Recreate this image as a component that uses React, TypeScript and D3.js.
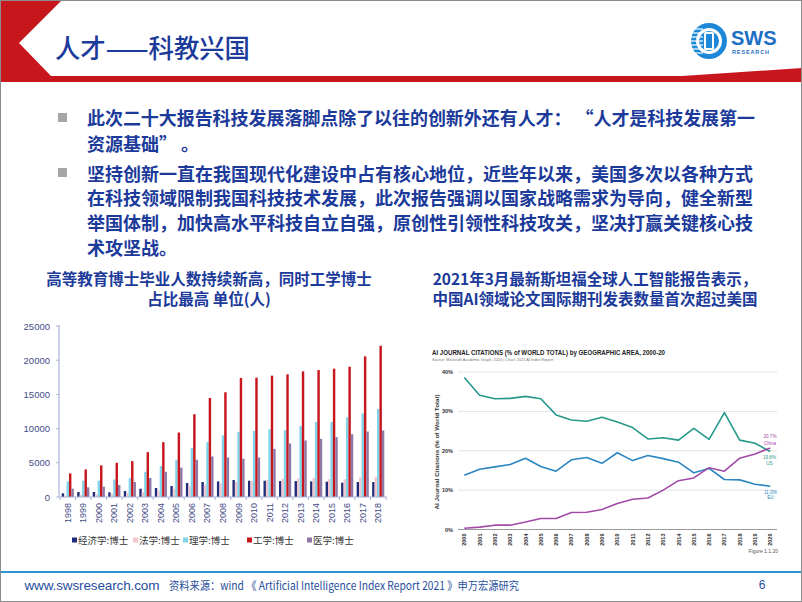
import React from 'react';
import * as d3 from 'd3';

// ---------- Left chart data (人) ----------
const yearLabels = ['1998','1999','2000','2001','2002','2003','2004','2005','2006','2007','2008','2009','2010','2011','2012','2013','2014','2015','2016','2017','2018'];
const econ = [540, 730, 730, 680, 870, 1210, 1310, 1600, 2040, 2190, 2280, 2480, 2380, 2380, 2330, 2330, 2280, 2240, 2090, 2190, 2190];
const law = [200, 300, 400, 450, 600, 700, 900, 1200, 1600, 1800, 2000, 2200, 2300, 2500, 2650, 2700, 2800, 2600, 2600, 2850, 2950];
const sci = [2290, 2380, 2380, 2570, 2770, 3690, 4520, 5440, 7190, 8020, 9000, 9530, 9670, 9910, 9770, 10400, 10980, 10980, 11660, 12200, 12880];
const eng = [3450, 4030, 4620, 5000, 5250, 6560, 8020, 9430, 12100, 14480, 15310, 17400, 17450, 17740, 17930, 18370, 18560, 18760, 19050, 20560, 22110];
const med = [1220, 1410, 1510, 1750, 2190, 2770, 3690, 4280, 5440, 5930, 5780, 5590, 5780, 7050, 7820, 8260, 8500, 8750, 9180, 9570, 9720];
const seriesNames = ['经济学:博士', '法学:博士', '理学:博士', '工学:博士', '医学:博士'];
const seriesColors = ['#1f2d7a', '#f2c6ce', '#7fd4ea', '#c8161d', '#8e78a6'];
const leftTicks = [0, 5000, 10000, 15000, 20000, 25000];

// ---------- Right chart data (% of world total) ----------
const aiYears = ['2000','2001','2002','2003','2004','2005','2006','2007','2008','2009','2010','2011','2012','2013','2014','2015','2016','2017','2018','2019','2020'];
const usShare = [38.6, 34.1, 33.2, 33.3, 33.8, 33.2, 29.1, 27.8, 27.5, 28.5, 27.3, 25.9, 23.0, 23.3, 22.7, 25.7, 22.9, 29.7, 22.7, 21.9, 19.8];
const euShare = [13.8, 15.3, 15.9, 16.5, 18.1, 16.0, 14.8, 17.7, 18.3, 16.8, 19.5, 17.5, 18.8, 18.0, 17.1, 14.4, 15.5, 12.7, 12.6, 11.5, 11.0];
const chinaShare = [0.3, 0.6, 1.1, 1.1, 1.9, 2.8, 2.8, 4.3, 4.4, 5.1, 6.6, 7.7, 8.0, 10.0, 12.4, 13.1, 15.7, 14.8, 18.1, 19.2, 20.7];
const pctTicks = [0, 10, 20, 30, 40];

const bullet1 = ['此次二十大报告科技发展落脚点除了以往的创新外还有人才： “人才是科技发展第一', '资源基础” 。'];
const bullet2 = ['坚持创新一直在我国现代化建设中占有核心地位，近些年以来，美国多次以各种方式', '在科技领域限制我国科技技术发展，此次报告强调以国家战略需求为导向，健全新型', '举国体制，加快高水平科技自立自强，原创性引领性科技攻关，坚决打赢关键核心技', '术攻坚战。'];

const CJK = '"Noto Sans CJK SC", "Noto Sans", sans-serif';
const SANS = '"Liberation Sans", Arial, sans-serif';
const BLUE = '#1b3a9a';

export default function App() {
  // left chart scales
  const x0 = d3.scaleBand().domain(yearLabels).range([60, 386]).padding(0);
  const x1 = d3.scaleBand().domain(d3.range(5).map(String)).range([0, x0.bandwidth()]).paddingOuter(0.7).paddingInner(0);
  const yL = d3.scaleLinear().domain([0, 25000]).range([497, 326]);
  const allSeries = [econ, law, sci, eng, med];

  // right chart scales
  const xr = d3.scalePoint().domain(aiYears).range([464.3, 770.3]);
  const yr = d3.scaleLinear().domain([0, 40]).range([529.5, 372]);
  const line = d3.line<number>().x((_, i) => xr(aiYears[i]) as number).y(d => yr(d));
  const rightSeries = [
    { vals: usShare, color: '#26998b' },
    { vals: euShare, color: '#2b86c2' },
    { vals: chinaShare, color: '#a24aa8' },
  ];

  const legendX = [72, 133, 183, 247, 307];

  return (
    <svg width={802} height={602} style={{ position: 'absolute', left: 0, top: 0, background: '#fff' }}>
      <rect x={0} y={0} width={802} height={602} fill="#fff" />
      {/* header */}
      <polygon points="0,0 62,0 19,43 51,76 682,76 802,68 802,82 0,82" fill="#c8161d" />
      <text x={55} y={58} fontFamily={CJK} fontWeight={500} fontSize={26} fill={BLUE} textLength={195} lengthAdjust="spacingAndGlyphs">人才——科教兴国</text>
      {/* logo */}
      <g>
        <circle cx={709} cy={41} r={18} fill="#1e88d8" />
        <circle cx={709} cy={41} r={13} fill="#fff" />
        <circle cx={709} cy={41} r={10} fill="#1e88d8" />
        {[29, 33, 37, 41, 45, 49, 53].map((yy) => (
          <line key={yy} x1={691} x2={703} y1={yy} y2={yy} stroke="#fff" strokeWidth={1.2} />
        ))}
        <rect x={704} y={32} width={10} height={18} rx={1.5} fill="#fff" />
        <rect x={706} y={34} width={6} height={14} fill="#1e88d8" />
        <text x={731} y={45} fontFamily={SANS} fontWeight="bold" fontSize={20} fill="#1d6fc4">SWS</text>
        <text x={732} y={53.5} fontFamily={SANS} fontWeight="bold" fontSize={5.5} fill="#1d6fc4" textLength={37}>RESEARCH</text>
      </g>

      {/* bullets */}
      <rect x={58} y={113} width={9} height={9} fill="#a6a6a6" />
      <rect x={58} y={168} width={9} height={9} fill="#a6a6a6" />
      {bullet1.map((t, i) => (
        <text key={'b1' + i} x={87} y={117 + i * 25.5} dominantBaseline="central" fontFamily={CJK} fontWeight="bold" fontSize={18} fill={BLUE}
          {...(i === 0 ? { textLength: 668, lengthAdjust: 'spacing' } : {})}>{t}</text>
      ))}
      {bullet2.map((t, i) => (
        <text key={'b2' + i} x={87} y={172.5 + i * 24.7} dominantBaseline="central" fontFamily={CJK} fontWeight="bold" fontSize={18} fill={BLUE}>{t}</text>
      ))}

      {/* chart titles */}
      <text x={209} y={278} textAnchor="middle" dominantBaseline="central" fontFamily={CJK} fontWeight="bold" fontSize={15.5} fill={BLUE}>高等教育博士毕业人数持续新高，同时工学博士</text>
      <text x={209} y={297.5} textAnchor="middle" dominantBaseline="central" fontFamily={CJK} fontWeight="bold" fontSize={15.5} fill={BLUE}>占比最高 单位(人)</text>
      <text x={595} y={278} textAnchor="middle" dominantBaseline="central" fontFamily={CJK} fontWeight="bold" fontSize={15.5} fill={BLUE}>2021年3月最新斯坦福全球人工智能报告表示，</text>
      <text x={595} y={297.5} textAnchor="middle" dominantBaseline="central" fontFamily={CJK} fontWeight="bold" fontSize={15.5} fill={BLUE}>中国AI领域论文国际期刊发表数量首次超过美国</text>

      {/* left chart */}
      <g>
        {leftTicks.map((t) => (
          <g key={t}>
            <text x={50} y={yL(t)} textAnchor="end" dominantBaseline="central" fontFamily={SANS} fontSize={9.5} fill="#3f4c86">{t}</text>
            <line x1={56} x2={59} y1={yL(t)} y2={yL(t)} stroke="#a8b2d8" />
          </g>
        ))}
        {allSeries.map((vals, si) => (
          <g key={si}>
            {vals.map((v, i) => (
              <rect key={i}
                x={(x0(yearLabels[i]) as number) + (x1(String(si)) as number)}
                y={yL(v)}
                width={x1.bandwidth()}
                height={yL(0) - yL(v)}
                fill={seriesColors[si]} />
            ))}
          </g>
        ))}
        <line x1={59} x2={59} y1={325} y2={497} stroke="#a8b2d8" strokeWidth={1.2} />
        <line x1={59} x2={387} y1={497} y2={497} stroke="#a8b2d8" strokeWidth={1.2} />
        {yearLabels.map((yl) => (
          <line key={'tk' + yl} x1={x0(yl) as number} x2={x0(yl) as number} y1={497} y2={500} stroke="#a8b2d8" />
        ))}
        <line x1={386} x2={386} y1={497} y2={500} stroke="#a8b2d8" />
        {yearLabels.map((yl) => {
          const cx = (x0(yl) as number) + x0.bandwidth() / 2;
          return (
            <text key={'xl' + yl} transform={`translate(${cx + 3},503) rotate(-90)`} textAnchor="end" fontFamily={SANS} fontSize={9} fill="#3f4c86">{yl}</text>
          );
        })}
        {seriesNames.map((n, i) => (
          <g key={n}>
            <rect x={legendX[i]} y={537.5} width={5} height={5} fill={seriesColors[i]} />
            <text x={legendX[i] + 6} y={540} dominantBaseline="central" fontFamily={CJK} fontSize={9.5} fill="#333">{n}</text>
          </g>
        ))}
      </g>

      {/* right chart */}
      <g>
        <text x={432} y={355} fontFamily={SANS} fontWeight="bold" fontSize={7} fill="#222" textLength={233} lengthAdjust="spacingAndGlyphs">AI JOURNAL CITATIONS (% of WORLD TOTAL) by GEOGRAPHIC AREA, 2000-20</text>
        <text x={432} y={361} fontFamily={SANS} fontSize={3.8} fill="#777" textLength={121} lengthAdjust="spacingAndGlyphs">Source: Microsoft Academic Graph, 2020 | Chart: 2021 AI Index Report</text>
        {pctTicks.map((t) => (
          <g key={'g' + t}>
            {t > 0 && <line x1={458} x2={777} y1={yr(t)} y2={yr(t)} stroke="#e3e3e3" strokeWidth={1} />}
            <text x={453} y={yr(t)} textAnchor="end" dominantBaseline="central" fontFamily={SANS} fontWeight="bold" fontSize={5.5} fill="#333">{t}%</text>
          </g>
        ))}
        <line x1={458} x2={777} y1={yr(0)} y2={yr(0)} stroke="#9a9a9a" strokeWidth={1} />
        <text transform={`translate(437,452) rotate(-90)`} textAnchor="middle" dominantBaseline="central" fontFamily={SANS} fontWeight="bold" fontSize={5.5} fill="#333" textLength={115} lengthAdjust="spacingAndGlyphs">AI Journal Citations (% of World Total)</text>
        {aiYears.map((yy) => (
          <text key={'ax' + yy} transform={`translate(${(xr(yy) as number) + 2},533.5) rotate(-90)`} textAnchor="end" fontFamily={SANS} fontWeight="bold" fontSize={5.5} fill="#333">{yy}</text>
        ))}
        {rightSeries.map((s, i) => (
          <path key={'ln' + i} d={line(s.vals) as string} fill="none" stroke={s.color} strokeWidth={1.6} strokeLinejoin="round" />
        ))}
        <text x={770} y={436} textAnchor="middle" dominantBaseline="central" fontFamily={SANS} fontSize={4.6} fill="#a24aa8">20.7%</text>
        <text x={770} y={443} textAnchor="middle" dominantBaseline="central" fontFamily={SANS} fontSize={4.6} fill="#a24aa8">China</text>
        <text x={769.5} y={457.5} textAnchor="middle" dominantBaseline="central" fontFamily={SANS} fontSize={4.6} fill="#26998b">19.8%</text>
        <text x={769.5} y={463.5} textAnchor="middle" dominantBaseline="central" fontFamily={SANS} fontSize={4.6} fill="#26998b">US</text>
        <text x={770.5} y={492} textAnchor="middle" dominantBaseline="central" fontFamily={SANS} fontSize={4.6} fill="#2b86c2">11.0%</text>
        <text x={770.5} y={497.5} textAnchor="middle" dominantBaseline="central" fontFamily={SANS} fontSize={4.6} fill="#2b86c2">EU</text>
        <text x={778} y={553} textAnchor="end" fontFamily={SANS} fontSize={5} fill="#555">Figure 1.1.20</text>
      </g>

      {/* footer */}
      <line x1={0} x2={802} y1={572} y2={572} stroke="#2a93d2" strokeWidth={2} />
      <text x={24.5} y={585} dominantBaseline="central" fontFamily={SANS} fontSize={13.5} fill="#1f4e9c" textLength={135}>www.swsresearch.com</text>
      <text x={169} y={585} dominantBaseline="central" fontFamily={CJK} fontSize={11.5} fill="#1f4e9c" textLength={350} lengthAdjust="spacingAndGlyphs">资料来源：wind 《 Artificial Intelligence Index Report 2021 》申万宏源研究</text>
      <text x={762} y={585} textAnchor="middle" dominantBaseline="central" fontFamily={SANS} fontSize={12} fill="#1f4e9c">6</text>

      <rect x={0.5} y={0.5} width={801} height={601} fill="none" stroke="#8c8c8c" strokeWidth={1} />
    </svg>
  );
}
